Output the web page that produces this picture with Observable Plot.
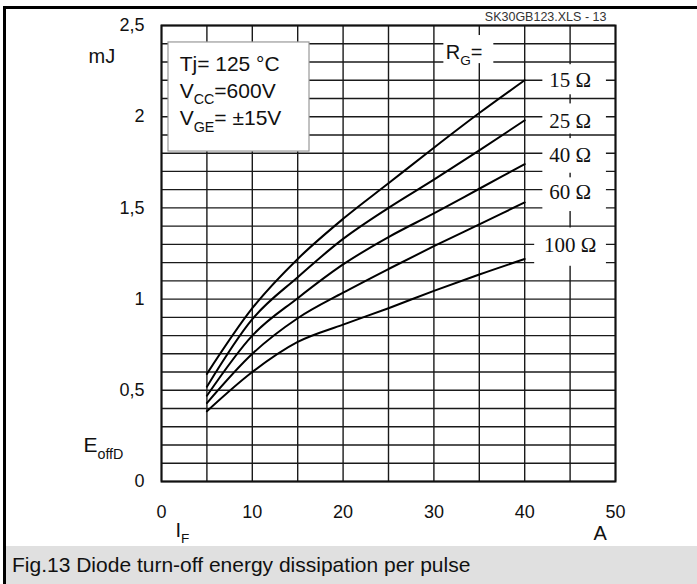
<!DOCTYPE html>
<html>
<head>
<meta charset="utf-8">
<script src="https://cdn.jsdelivr.net/npm/d3@7"></script>
<script src="https://cdn.jsdelivr.net/npm/@observablehq/plot@0.6"></script>
<style>
  html, body { margin: 0; padding: 0; background: #fff; }
  #wrap { position: relative; width: 697px; height: 584px; overflow: hidden; font-family: Arial, "Liberation Sans", sans-serif; }
  #chart svg { display: block; }
  #caption { position: absolute; left: 6px; top: 546px; width: 691px; height: 38px; background: #e0e0e0;
             font-size: 21px; line-height: 38px; color: #111; padding-left: 6px; box-sizing: border-box; }
  .bl { position: absolute; background: #000; }
</style>
</head>
<body>
<div id="wrap">
  <div id="chart"></div>
  <div id="caption">Fig.13 Diode turn-off energy dissipation per pulse</div>
  <div class="bl" style="left:3px;top:6px;width:3px;height:578px"></div>
  <div class="bl" style="left:3px;top:6px;width:694px;height:3px"></div>
</div>
<script>
// ---- data ----
const current = [5, 10, 15, 20, 25, 30, 35, 40];               // I_F [A]
const e15  = [0.59, 0.95, 1.22, 1.44, 1.635, 1.83, 2.02, 2.20];  // E_offD [mJ], RG = 15 Ω
const e25  = [0.52, 0.89, 1.12, 1.33, 1.50, 1.655, 1.815, 1.98]; // RG = 25 Ω
const e40  = [0.47, 0.80, 1.005, 1.19, 1.34, 1.47, 1.605, 1.74]; // RG = 40 Ω
const e60  = [0.43, 0.70, 0.895, 1.035, 1.165, 1.29, 1.41, 1.53]; // RG = 60 Ω
const e100 = [0.385, 0.60, 0.765, 0.86, 0.95, 1.045, 1.135, 1.22]; // RG = 100 Ω
const seriesNames = ["15 Ω", "25 Ω", "40 Ω", "60 Ω", "100 Ω"];
const seriesValues = [e15, e25, e40, e60, e100];
const xTicks = [0, 10, 20, 30, 40, 50];
const yTicks = [0, 0.5, 1, 1.5, 2, 2.5];
const conditions = ["Tj= 125 °C", "V_{CC}=600V", "V_{GE}= ±15V"];

// annotation placement (data units)
const labelY = [2.2, 1.975, 1.79, 1.583, 1.294];
const condY = [2.253, 2.105, 1.952];
const labelBoxes = [
  {x1: 42.0, x2: 49.0, y1: 2.12, y2: 2.285},
  {x1: 42.0, x2: 49.0, y1: 1.905, y2: 2.07},
  {x1: 42.0, x2: 49.0, y1: 1.69, y2: 1.88},
  {x1: 42.0, x2: 49.0, y1: 1.48, y2: 1.665},
  {x1: 41.1, x2: 49.0, y1: 1.18, y2: 1.39}
];

const rows = [];
seriesNames.forEach((name, i) => current.forEach((c, j) => rows.push({rg: name, x: c, y: seriesValues[i][j]})));
const labels = seriesNames.map((n, i) => ({text: n, y: labelY[i]}));
const condRows = conditions.map((t, i) => ({text: t, y: condY[i]}));

const gridXs = d3.range(0, 51, 5);
const gridYs = d3.range(0, 26).map(i => i / 10);

const plot = Plot.plot({
  width: 697,
  height: 546,
  marginLeft: 161,
  marginRight: 82,
  marginTop: 25,
  marginBottom: 65,
  style: {fontFamily: "Arial, 'Liberation Sans', sans-serif", fontSize: "18px", color: "#111", background: "transparent"},
  x: {domain: [0, 50], ticks: xTicks, tickSize: 0, tickPadding: 24, label: null},
  y: {domain: [0, 2.5], ticks: yTicks, tickSize: 0, tickPadding: 17, label: null,
      tickFormat: d => String(d).replace(".", ",")},
  marks: [
    Plot.ruleX(gridXs, {stroke: "#1a1a1a", strokeWidth: 1.4}),
    Plot.ruleY(gridYs, {stroke: "#1a1a1a", strokeWidth: 1.4}),
    Plot.frame({stroke: "#111", strokeWidth: 2}),
    // conditions box
    Plot.rect([{x1: 0.77, x2: 16.3, y1: 1.809, y2: 2.407}], {x1: "x1", x2: "x2", y1: "y1", y2: "y2", fill: "white", stroke: "#999", strokeWidth: 1.2}),
    Plot.text(condRows, {x: 2.0, y: "y", text: "text", textAnchor: "start", lineAnchor: "bottom", fontSize: 21, fill: "#111"}),
    // curves
    Plot.line(rows, {x: "x", y: "y", z: "rg", stroke: "#000", strokeWidth: 2, curve: "monotone-x"}),
    // RG labels
    Plot.rect(labelBoxes, {x1: "x1", x2: "x2", y1: "y1", y2: "y2", fill: "white"}),
    Plot.rect([{x1: 31.1, x2: 36.6, y1: 2.291, y2: 2.445}], {x1: "x1", x2: "x2", y1: "y1", y2: "y2", fill: "white"}),
    Plot.text(["R_{G}="], {x: 31.3, y: 2.319, text: d => d, textAnchor: "start", lineAnchor: "bottom", fontSize: 20, fill: "#111"}),
    Plot.text(labels, {x: 45, y: "y", text: "text", textAnchor: "middle", lineAnchor: "middle", fontSize: 21,
                       fontFamily: "'Liberation Serif', 'Times New Roman', serif", fill: "#111"}),
    // axis unit labels
    Plot.text(["mJ"], {x: -8.04, y: 2.292, text: d => d, textAnchor: "start", lineAnchor: "bottom", fontSize: 20, fill: "#111"}),
    Plot.text(["E_{offD}"], {x: -8.6, y: 0.159, text: d => d, textAnchor: "start", lineAnchor: "bottom", fontSize: 21, fill: "#111"}),
    Plot.text(["I_{F}"], {x: 1.54, y: -0.307, text: d => d, textAnchor: "start", lineAnchor: "bottom", fontSize: 20, fill: "#111"}),
    Plot.text(["A"], {x: 48.3, y: -0.32, text: d => d, textAnchor: "middle", lineAnchor: "bottom", fontSize: 20, fill: "#111"}),
    // file tag
    Plot.text(["SK30GB123.XLS - 13"], {x: 49, y: 2.5, dy: -5, text: d => d, textAnchor: "end", lineAnchor: "bottom", fontSize: 12.5, fill: "#333"})
  ]
});
document.getElementById("chart").appendChild(plot);

// turn "_{...}" into subscript tspans
const NS = "http://www.w3.org/2000/svg";
plot.querySelectorAll("text, tspan").forEach(el => {
  [...el.childNodes].forEach(n => {
    if (n.nodeType !== 3 || !n.nodeValue.includes("_{")) return;
    const fs = parseFloat(getComputedStyle(el).fontSize) || 18;
    const shift = fs * 0.3;
    const frag = document.createDocumentFragment();
    let pending = 0;
    n.nodeValue.split(/(_\{[^}]*\})/).forEach(p => {
      if (!p) return;
      const ts = document.createElementNS(NS, "tspan");
      if (p.startsWith("_{")) {
        ts.textContent = p.slice(2, -1);
        ts.setAttribute("font-size", (fs * 0.68).toFixed(1) + "px");
        ts.setAttribute("dy", shift.toFixed(1));
        pending = shift;
      } else {
        ts.textContent = p;
        if (pending) { ts.setAttribute("dy", (-pending).toFixed(1)); pending = 0; }
      }
      frag.appendChild(ts);
    });
    el.replaceChild(frag, n);
  });
});
</script>
</body>
</html>
